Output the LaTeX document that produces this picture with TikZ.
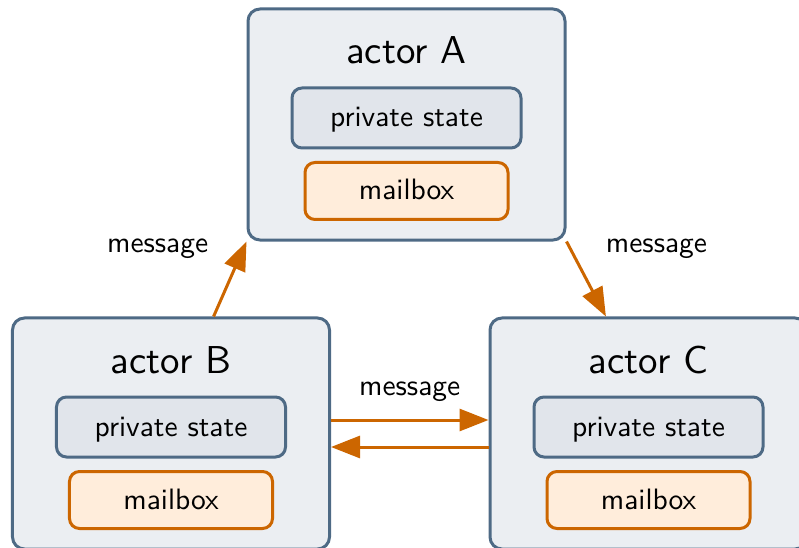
\documentclass[tikz,border=0pt]{standalone}
\usepackage{graphicx}
\usetikzlibrary{arrows.meta,calc}

\definecolor{slate}{RGB}{78,106,133}
\definecolor{actorfill}{RGB}{235,238,242}
\definecolor{statefill}{RGB}{225,229,235}
\definecolor{accent}{RGB}{204,102,0}
\definecolor{mailfill}{RGB}{255,237,219}

% sans text at 10pt proportions, enlarged
\newcommand{\txtsm}[1]{\scalebox{2.96}{\sffamily #1}}
\newcommand{\txttitle}[1]{\scalebox{3.9}{\sffamily #1}}

\begin{document}
\begin{tikzpicture}[x=1bp,y=-1bp,
  actor/.style={draw=slate, fill=actorfill, line width=3bp, rounded corners=12bp,
    minimum width=317bp, minimum height=231bp, inner sep=0pt},
  actortitle/.style={anchor=base, yshift=-56.5bp, inner sep=0pt},
  innerbox/.style={line width=3bp, rounded corners=10bp, inner sep=0pt,
    text height=22bp, text depth=4bp},
  statebox/.style={innerbox, draw=slate, fill=statefill,
    minimum width=229bp, minimum height=60bp},
  mailboxbox/.style={innerbox, draw=accent, fill=mailfill,
    minimum width=203bp, minimum height=57bp},
  msg/.style={draw=accent, line width=3bp, -{Triangle[length=29bp,width=22bp]}},
  msglabel/.style={inner sep=0pt}
]
\useasboundingbox (0,0) rectangle (799,548);
\clip (0,0) rectangle (799,548);

% actors
\node[actor, label={[actortitle]north:\txttitle{actor A}}] (A) at (406.5,124.5) {};
\node[actor, label={[actortitle]north:\txttitle{actor B}}] (B) at (171,433.5) {};
\node[actor, label={[actortitle]north:\txttitle{actor C}}] (C) at (648.5,433.5) {};

% internals of each actor
\foreach \a in {A,B,C}{
  \node[statebox] (\a state) at ($(\a.center)+(0,-6.5)$) {\txtsm{private state}};
  \node[mailboxbox] (\a mail) at ($(\a.center)+(0,66.5)$) {\txtsm{mailbox}};
}

% messages
\draw[msg] (B.70) -- node[msglabel, pos=0.9, anchor=base east, xshift=-33.5bp, yshift=-3bp] {\txtsm{message}} (A.south west);
\draw[msg] (A.south east) -- node[msglabel, pos=0.1, anchor=base west, xshift=34bp, yshift=-3bp] {\txtsm{message}} (C.110);
\draw[msg] ([yshift=13.5bp]B.east) -- node[msglabel, anchor=base, yshift=25bp] {\txtsm{message}} ([yshift=13.5bp]B.east -| C.west);
\draw[msg] ([yshift=-13.5bp]C.west) -- ([yshift=-13.5bp]C.west -| B.east);
\end{tikzpicture}
\end{document}
